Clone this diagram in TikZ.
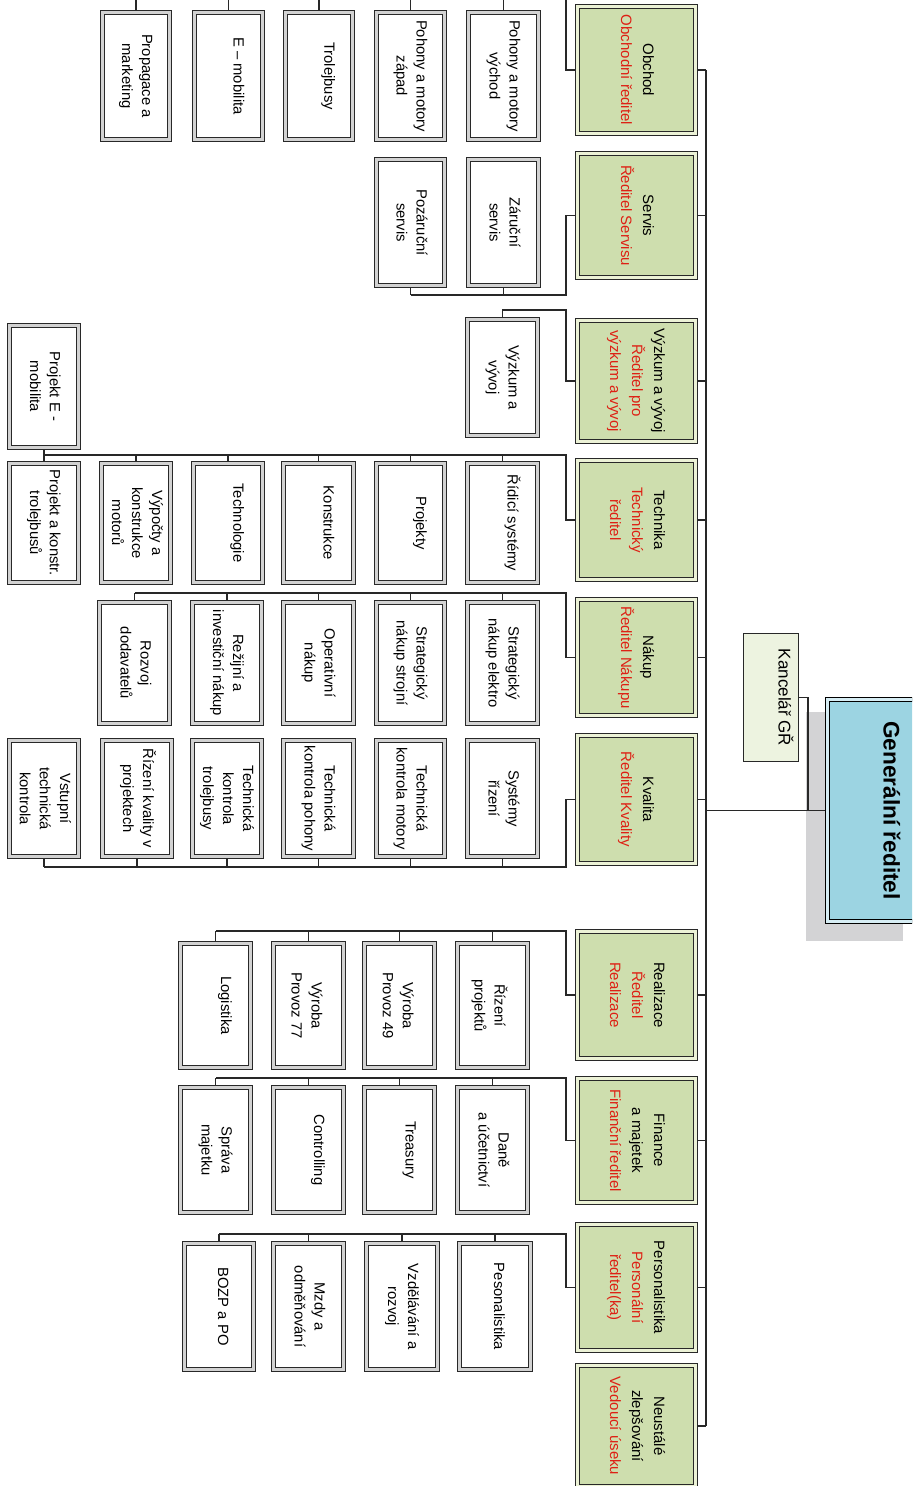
\documentclass[tikz,border=0pt]{standalone}
\usepackage{fontspec}
\setmainfont{Liberation Sans}
\usepackage{graphicx}
\usetikzlibrary{backgrounds}

\definecolor{deptGreen}{RGB}{206,222,174}
\definecolor{gapGreen}{RGB}{236,242,214}
\definecolor{rootBlue}{RGB}{156,212,226}
\definecolor{gapBlue}{RGB}{214,237,244}
\definecolor{officeGreen}{RGB}{237,243,224}
\definecolor{shadowGray}{RGB}{211,211,213}
\definecolor{txtRed}{RGB}{222,32,20}
\definecolor{lineGray}{RGB}{40,40,40}

% vertical (top-to-bottom) text block; optional lift in pt moves it to the right
\newcommand\vt[2][0]{\rotatebox{-90}{\raisebox{#1pt}[\height][\depth]{\begin{tabular}{@{}c@{}}#2\end{tabular}}}}

% box given by its outer edges: style, name, x1, y1, x2, y2, text
\newcommand\orgbox[7]{%
  \pgfmathsetmacro\obW{(#5-#3-4.8)/2}%
  \pgfmathsetmacro\obH{(#6-#4-4.8)/2}%
  \node[#1, minimum width=\obW pt, minimum height=\obH pt] (#2) at ({(#3+#5)/2},{(#4+#6)/2}) {#7};}

\tikzset{
  conn/.style={draw=lineGray, line width=0.6pt},
  unit/.style={draw=lineGray, line width=0.55pt, double=gray!35, double distance=1.3pt,
    fill=white, inner sep=0pt, font=\fontsize{7.4}{10}\selectfont},
  dept/.style={draw=lineGray, line width=0.55pt, double=gapGreen, double distance=1.3pt,
    fill=deptGreen, inner sep=0pt, font=\fontsize{7.5}{11}\selectfont},
  chief/.style={draw=black, line width=0.55pt, double=gapBlue, double distance=1.3pt,
    fill=rootBlue, inner sep=0pt, font=\fontsize{11.3}{13}\selectfont\bfseries},
  office/.style={draw=lineGray, line width=0.6pt, fill=officeGreen, inner sep=0pt,
    font=\fontsize{8.5}{10}\selectfont}
}

\begin{document}
\begin{tikzpicture}[x=0.5pt, y=-0.5pt]
\useasboundingbox (0,0) rectangle (912,1486);
\clip (0,0) rectangle (912,1486);

% top of the chart
\orgbox{chief}{root}{825}{697}{920}{924}{\vt[8.2]{Generální ředitel}}
\node[office, minimum width=27.4pt, minimum height=63.9pt] (kanc) at (771,697.5) {\vt[6]{Kancelář GŘ}};

% divisions
\orgbox{dept}{obchod}{575}{4}{698}{136}{\vt{Obchod\\\color{txtRed}Obchodní ředitel}}
\orgbox{dept}{servis}{575}{151}{698}{280}{\vt{Servis\\\color{txtRed}Ředitel Servisu}}
\orgbox{dept}{vyzkum}{575}{318}{698}{444}{\vt{Výzkum a vývoj\\\color{txtRed}Ředitel pro\\\color{txtRed}výzkum a vývoj}}
\orgbox{dept}{technika}{575}{458}{698}{582}{\vt{Technika\\\color{txtRed}Technický\\\color{txtRed}ředitel}}
\orgbox{dept}{nakup}{575}{597}{698}{718}{\vt{Nákup\\\color{txtRed}Ředitel Nákupu}}
\orgbox{dept}{kvalita}{575}{733}{698}{866}{\vt{Kvalita\\\color{txtRed}Ředitel Kvality}}
\orgbox{dept}{realizace}{575}{929}{698}{1061}{\vt{Realizace\\\color{txtRed}Ředitel\\\color{txtRed}Realizace}}
\orgbox{dept}{finance}{575}{1076}{698}{1205}{\vt{Finance\\a majetek\\\color{txtRed}Finanční ředitel}}
\orgbox{dept}{personal}{575}{1222}{698}{1353}{\vt{Personalistika\\\color{txtRed}Personální\\\color{txtRed}ředitel(ka)}}
\orgbox{dept}{neustale}{575}{1363}{698}{1489}{\vt{Neustálé\\zlepšování\\\color{txtRed}Vedoucí úseku}}

% Obchod
\orgbox{unit}{pv}{466}{10}{541}{142}{\vt{Pohony a motory\\východ}}
\orgbox{unit}{pz}{374}{10}{447}{142}{\vt{Pohony a motory\\západ}}
\orgbox{unit}{trol}{283}{10}{355}{142}{\vt[4.7]{Trolejbusy}}
\orgbox{unit}{emob}{192}{10}{265}{142}{\vt[4.5]{E – mobilita}}
\orgbox{unit}{prop}{100}{10}{172}{142}{\vt{Propagace a\\marketing}}

% Servis
\orgbox{unit}{zar}{466}{157}{541}{288}{\vt{Záruční\\servis}}
\orgbox{unit}{pozar}{374}{157}{447}{288}{\vt{Pozáruční\\servis}}

% Výzkum a vývoj
\orgbox{unit}{vyzc}{465}{317}{540}{438}{\vt{Výzkum a\\vývoj}}

% Technika
\orgbox{unit}{pem}{7}{323}{81}{450}{\vt{Projekt E -\\mobilita}}
\orgbox{unit}{ridici}{465}{461}{540}{585}{\vt[4.5]{Řídicí systémy}}
\orgbox{unit}{projekty}{374}{461}{447}{585}{\vt[4.8]{Projekty}}
\orgbox{unit}{konstr}{281}{461}{356}{585}{\vt[4.5]{Konstrukce}}
\orgbox{unit}{techn}{191}{461}{265}{585}{\vt[4.7]{Technologie}}
\orgbox{unit}{vypocty}{99}{461}{173}{585}{\vt{Výpočty a\\konstrukce\\motorů}}
\orgbox{unit}{pkt}{7}{461}{81}{585}{\vt{Projekt a konstr.\\trolejbusů}}

% Nákup
\orgbox{unit}{sne}{465}{600}{540}{726}{\vt{Strategický\\nákup elektro}}
\orgbox{unit}{sns}{374}{600}{447}{726}{\vt{Strategický\\nákup strojní}}
\orgbox{unit}{opn}{281}{600}{356}{726}{\vt{Operativní\\nákup}}
\orgbox{unit}{rin}{190}{600}{264}{726}{\vt{Režijní a\\investiční nákup}}
\orgbox{unit}{rdod}{97}{600}{172}{726}{\vt{Rozvoj\\dodavatelů}}

% Kvalita
\orgbox{unit}{sr}{465}{738}{540}{859}{\vt{Systémy\\řízení}}
\orgbox{unit}{tkm}{374}{738}{447}{859}{\vt{Technická\\kontrola motory}}
\orgbox{unit}{tkp}{281}{738}{356}{859}{\vt{Technická\\kontrola pohony}}
\orgbox{unit}{tkt}{190}{738}{264}{859}{\vt{Technická\\kontrola\\trolejbusy}}
\orgbox{unit}{rkp}{100}{738}{174}{859}{\vt{Řízení kvality v\\projektech}}
\orgbox{unit}{vtk}{7}{738}{81}{859}{\vt{Vstupní\\technická\\kontrola}}

% Realizace
\orgbox{unit}{rp}{455}{941}{530}{1070}{\vt[-2]{Řízení\\projektů}}
\orgbox{unit}{v49}{362}{941}{437}{1070}{\vt[-1.3]{Výroba\\Provoz 49}}
\orgbox{unit}{v77}{271}{941}{346}{1070}{\vt[-1.5]{Výroba\\Provoz 77}}
\orgbox{unit}{logi}{178}{941}{253}{1070}{\vt[4.8]{Logistika}}

% Finance a majetek
\orgbox{unit}{dane}{455}{1085}{530}{1215}{\vt{Daně\\a účetnictví}}
\orgbox{unit}{treas}{362}{1085}{437}{1215}{\vt[5]{Treasury}}
\orgbox{unit}{contr}{271}{1085}{346}{1215}{\vt[4.8]{Controlling}}
\orgbox{unit}{sprava}{178}{1085}{253}{1215}{\vt{Správa\\majetku}}

% Personalistika
\orgbox{unit}{pes}{457}{1241}{533}{1372}{\vt[1.5]{Pesonalistika}}
\orgbox{unit}{vzd}{364}{1241}{440}{1372}{\vt{Vzdělávání a\\rozvoj}}
\orgbox{unit}{mzdy}{271}{1241}{346}{1372}{\vt{Mzdy a\\odměňování}}
\orgbox{unit}{bozp}{182}{1241}{256}{1372}{\vt[1.5]{BOZP a PO}}

% connector guides
\coordinate (trunk) at (706,0);
\coordinate (bx) at (566,0);
\coordinate (kj) at (808,0);
\coordinate (busO) at (0,-6);
\coordinate (busS) at (0,295);
\coordinate (busV) at (0,310);
\coordinate (busT) at (0,455);
\coordinate (busN) at (0,593);
\coordinate (busK) at (0,867);
\coordinate (busR) at (0,931);
\coordinate (busF) at (0,1078);
\coordinate (busP) at (0,1234);

\begin{scope}[on background layer]
  % shadow of the top box
  \fill[shadowGray] ([shift={(-20.4,18.4)}]root.south west) rectangle ([shift={(-15.6,13.6)}]root.north east);

  % trunk and division links
  \draw[conn] (obchod.east -| trunk) -- (neustale.east -| trunk);
  \foreach \d in {obchod,servis,vyzkum,technika,nakup,kvalita,realizace,finance,personal,neustale}
    \draw[conn] (\d.east) -- (\d.east -| trunk);
  \draw[conn] (root.west) -- (root.west -| trunk);
  \draw[conn] (kanc.east) -| (kj |- root.west);

  % Obchod
  \draw[conn] (obchod.west) -| (bx |- busO) -- (prop.north |- busO);
  \foreach \c in {pv,pz,trol,emob,prop} \draw[conn] (\c.north) -- (\c.north |- busO);
  % Servis
  \draw[conn] (servis.west) -| (bx |- busS) -- (pozar.south |- busS);
  \foreach \c in {zar,pozar} \draw[conn] (\c.south) -- (\c.south |- busS);
  % Výzkum a vývoj
  \draw[conn] (vyzkum.west) -| (bx |- busV) -| (vyzc.north);
  % Technika
  \draw[conn] (technika.west) -| (bx |- busT) -- (pkt.north |- busT);
  \foreach \c in {ridici,projekty,konstr,techn,vypocty,pkt} \draw[conn] (\c.north) -- (\c.north |- busT);
  \draw[conn] (pem.south) -- (pem.south |- busT);
  % Nákup
  \draw[conn] (nakup.west) -| (bx |- busN) -- (rdod.north |- busN);
  \foreach \c in {sne,sns,opn,rin,rdod} \draw[conn] (\c.north) -- (\c.north |- busN);
  % Kvalita
  \draw[conn] (kvalita.west) -| (bx |- busK) -- (vtk.south |- busK);
  \foreach \c in {sr,tkm,tkp,tkt,rkp,vtk} \draw[conn] (\c.south) -- (\c.south |- busK);
  % Realizace
  \draw[conn] (realizace.west) -| (bx |- busR) -- (logi.north |- busR);
  \foreach \c in {rp,v49,v77,logi} \draw[conn] (\c.north) -- (\c.north |- busR);
  % Finance a majetek
  \draw[conn] (finance.west) -| (bx |- busF) -- (sprava.north |- busF);
  \foreach \c in {dane,treas,contr,sprava} \draw[conn] (\c.north) -- (\c.north |- busF);
  % Personalistika
  \draw[conn] (personal.west) -| (bx |- busP) -- (bozp.north |- busP);
  \foreach \c in {pes,vzd,mzdy,bozp} \draw[conn] (\c.north) -- (\c.north |- busP);
\end{scope}
\end{tikzpicture}
\end{document}
